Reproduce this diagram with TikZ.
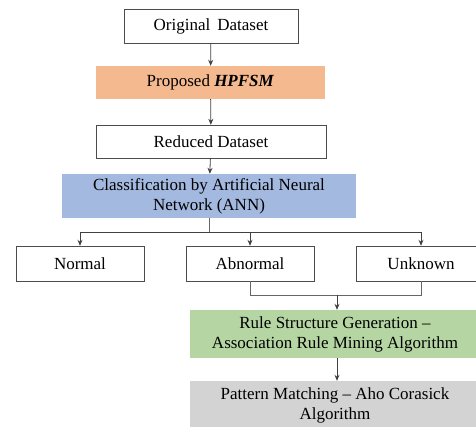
\documentclass[tikz,border=0pt]{standalone}
\usepackage{fontspec}
\setmainfont{Liberation Serif}
\usetikzlibrary{arrows.meta}

\tikzset{
    plainbox/.style={draw=black!70, fill=white, inner sep=0pt, font=\fontsize{17}{20}\selectfont},
    colorbox/.style={inner sep=0pt, align=center, font=\fontsize{17}{20}\selectfont},
    flow/.style={draw=black!75, line width=0.8pt, -{Stealth[length=6pt,width=5pt]}},
    link/.style={draw=black!60, line width=0.8pt},
}
\definecolor{hpfsmorange}{HTML}{F4B98F}
\definecolor{annblue}{HTML}{A3B9E0}
\definecolor{rulegreen}{HTML}{B5D6A3}
\definecolor{matchgray}{HTML}{D3D3D3}

\begin{document}
\begin{tikzpicture}[x=1pt, y=-1pt]
    \useasboundingbox (0,0) rectangle (476,427);

    % Main column
    \node[plainbox, minimum width=174, minimum height=34] (orig) at (211,26) {Original\, Dataset};
    \node[colorbox, fill=hpfsmorange, minimum width=229, minimum height=33] (hpfsm) at (210.5,82.5) {Proposed \textbf{\textit{HPFSM}}};
    \node[plainbox, minimum width=230, minimum height=33] (reduced) at (211,141.5) {Reduced Dataset};
    \node[colorbox, fill=annblue, minimum width=294, minimum height=44] (ann) at (209,196) {Classification by Artificial Neural\\Network (ANN)};

    \draw[flow] (orig) -- (hpfsm);
    \draw[flow] (hpfsm) -- (reduced);
    \draw[flow] (reduced) -- (ann);

    % Classes
    \node[plainbox, minimum width=128, minimum height=35] (normal) at (80,263.5) {Normal};
    \node[plainbox, minimum width=128, minimum height=35] (abnormal) at (250,263.5) {Abnormal};
    \node[plainbox, minimum width=130, minimum height=35] (unknown) at (421,263.5) {Unknown};

    \coordinate (split) at (209,232);
    \draw[link] (ann.south) -- (split);
    \draw[flow] (split) -| (normal.north);
    \draw[flow] (split) -| (abnormal.north);
    \draw[flow] (split) -| (unknown.north);

    % Rule mining and matching
    \node[colorbox, fill=rulegreen, minimum width=290, minimum height=48] (rules) at (335,334) {Rule Structure Generation --\\Association Rule Mining Algorithm};
    \node[colorbox, fill=matchgray, minimum width=290, minimum height=48] (match) at (335,405) {Pattern Matching -- Aho Corasick\\Algorithm};

    \coordinate (merge) at (337,295);
    \draw[link] (abnormal.south) |- (merge);
    \draw[link] (unknown.south) |- (merge);
    \draw[flow] (merge) -- (merge |- rules.north);
    \draw[flow] (rules.south -| merge) -- (match.north -| merge);
\end{tikzpicture}
\end{document}
